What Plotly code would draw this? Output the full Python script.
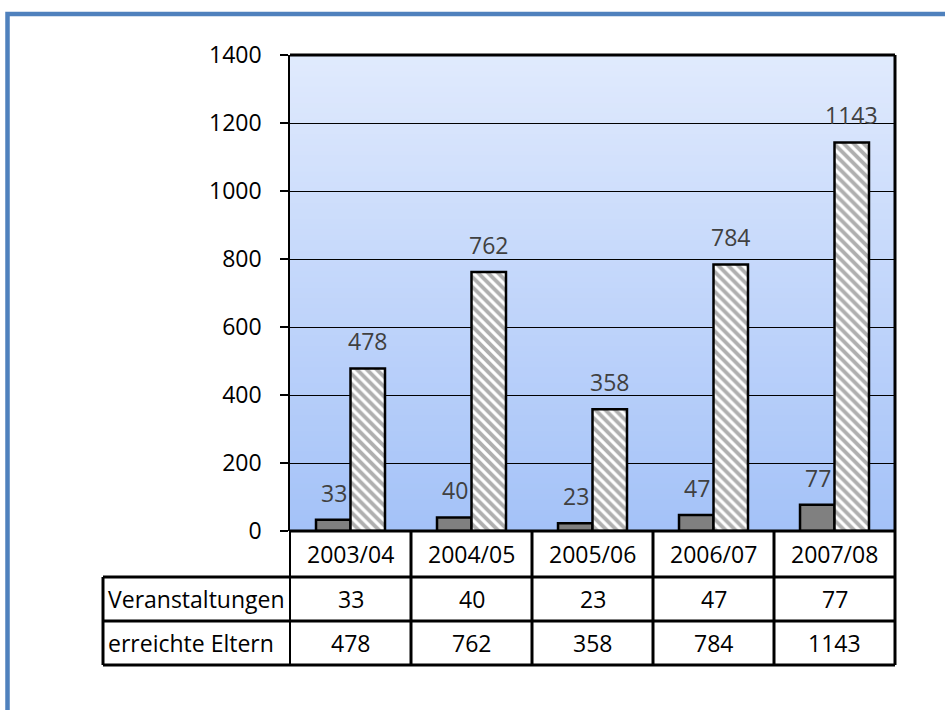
import plotly.graph_objects as go

# ---- data ----
categories = ["2003/04", "2004/05", "2005/06", "2006/07", "2007/08"]
veranstaltungen = [33, 40, 23, 47, 77]
eltern = [478, 762, 358, 784, 1143]
row_labels = ["Veranstaltungen", "erreichte Eltern"]
y_ticks = [0, 200, 400, 600, 800, 1000, 1200, 1400]

# ---- geometry ----
W, H = 945, 710
L, R, T, B = 290, 50, 55, 179
PW, PH = W - L - R, H - T - B
FONT = "Open Sans"
FS = 23


def px2x(px):
    return (px - L) / PW


def py2y(py):
    return (H - B - py) / PH


fig = go.Figure()
fig.add_trace(go.Bar(
    x=categories, y=veranstaltungen, name=row_labels[0],
    marker=dict(color="#808080", line=dict(color="black", width=2.5)),
))
fig.add_trace(go.Bar(
    x=categories, y=eltern, name=row_labels[1],
    marker=dict(color="white", line=dict(color="black", width=2.5),
                pattern=dict(shape="\\", fgcolor="#606060", bgcolor="white",
                             size=7, solidity=0.55)),
))

shapes = []
# gradient background of plot area
N = 90
top_c = (224, 234, 253)
bot_c = (164, 194, 248)
for i in range(N):
    t = i / (N - 1)
    c = tuple(round(bot_c[k] + (top_c[k] - bot_c[k]) * t) for k in range(3))
    shapes.append(dict(type="rect", xref="paper", yref="paper",
                       x0=0, x1=1, y0=i / N, y1=(i + 1) / N + 0.002,
                       fillcolor="rgb(%d,%d,%d)" % c, line=dict(width=0),
                       layer="below"))

# blue outer frame
shapes.append(dict(type="rect", xref="paper", yref="paper",
                   x0=px2x(7.5), x1=px2x(980), y0=py2y(14), y1=py2y(740),
                   line=dict(color="#4F81BD", width=4.5), fillcolor="rgba(0,0,0,0)",
                   layer="above"))

# plot area border (top, right, bottom thick)
blk = dict(color="black", width=3)
shapes += [
    dict(type="line", xref="paper", yref="paper", x0=0, x1=1, y0=1, y1=1, line=blk),
    dict(type="line", xref="paper", yref="paper", x0=1, x1=1, y0=0, y1=1, line=blk),
    dict(type="line", xref="paper", yref="paper", x0=0, x1=1, y0=0, y1=0, line=blk),
]

# data table lines
row_py = [531, 577, 621, 665]
left_px = 103
for py in row_py[1:]:
    shapes.append(dict(type="line", xref="paper", yref="paper",
                       x0=px2x(left_px), x1=1, y0=py2y(py), y1=py2y(py), line=blk))
shapes.append(dict(type="line", xref="paper", yref="paper",
                   x0=px2x(left_px), x1=px2x(left_px),
                   y0=py2y(row_py[1]), y1=py2y(row_py[3]), line=blk))
n = len(categories)
for i in range(n + 1):
    shapes.append(dict(type="line", xref="paper", yref="paper",
                       x0=i / n, x1=i / n, y0=py2y(row_py[0]), y1=py2y(row_py[3]),
                       line=dict(color="black", width=3 if i > 0 else 2)))

annotations = []
# data labels above bars
for cat, v in zip(categories, veranstaltungen):
    annotations.append(dict(x=cat, y=v, xref="x", yref="y", text=str(v),
                            showarrow=False, xshift=-17, yshift=27,
                            yanchor="middle",
                            font=dict(family=FONT, size=FS, color="#404040")))
for cat, v in zip(categories, eltern):
    annotations.append(dict(x=cat, y=v, xref="x", yref="y", text=str(v),
                            showarrow=False, xshift=17, yshift=27,
                            yanchor="middle",
                            font=dict(family=FONT, size=FS, color="#404040")))

# table text
row_centers = [554, 599, 643]
for cat in categories:
    annotations.append(dict(x=cat, y=py2y(row_centers[0]), xref="x", yref="paper",
                            text=cat, showarrow=False, yanchor="middle",
                            font=dict(family=FONT, size=FS, color="black")))
for r, vals in enumerate([veranstaltungen, eltern]):
    for cat, v in zip(categories, vals):
        annotations.append(dict(x=cat, y=py2y(row_centers[r + 1]), xref="x",
                                yref="paper", text=str(v), showarrow=False,
                                yanchor="middle",
                                font=dict(family=FONT, size=FS, color="black")))
    annotations.append(dict(x=px2x(106), y=py2y(row_centers[r + 1]), xref="paper",
                            yref="paper", text=row_labels[r], showarrow=False,
                            xanchor="left", yanchor="middle",
                            font=dict(family=FONT, size=FS, color="black")))

fig.update_layout(
    width=W, height=H,
    margin=dict(l=L, r=R, t=T, b=B),
    paper_bgcolor="white",
    plot_bgcolor="rgba(0,0,0,0)",
    showlegend=False,
    barmode="group",
    bargap=0.43,
    bargroupgap=0,
    shapes=shapes,
    annotations=annotations,
    xaxis=dict(type="category", showticklabels=False, showgrid=False,
               showline=False, zeroline=False, ticks=""),
    yaxis=dict(range=[0, 1400], tickvals=y_ticks, showgrid=True,
               gridcolor="black", gridwidth=1, zeroline=False,
               showline=True, linecolor="black", linewidth=1.5,
               ticks="outside", ticklen=8, tickwidth=2, tickcolor="black",
               ticklabelstandoff=14,
               tickfont=dict(family=FONT, size=FS, color="black")),
)

fig.write_html("out.html",
               config={"displayModeBar": False},
               post_script="document.body.style.margin='0px';"
                           "document.body.style.overflow='hidden';")
